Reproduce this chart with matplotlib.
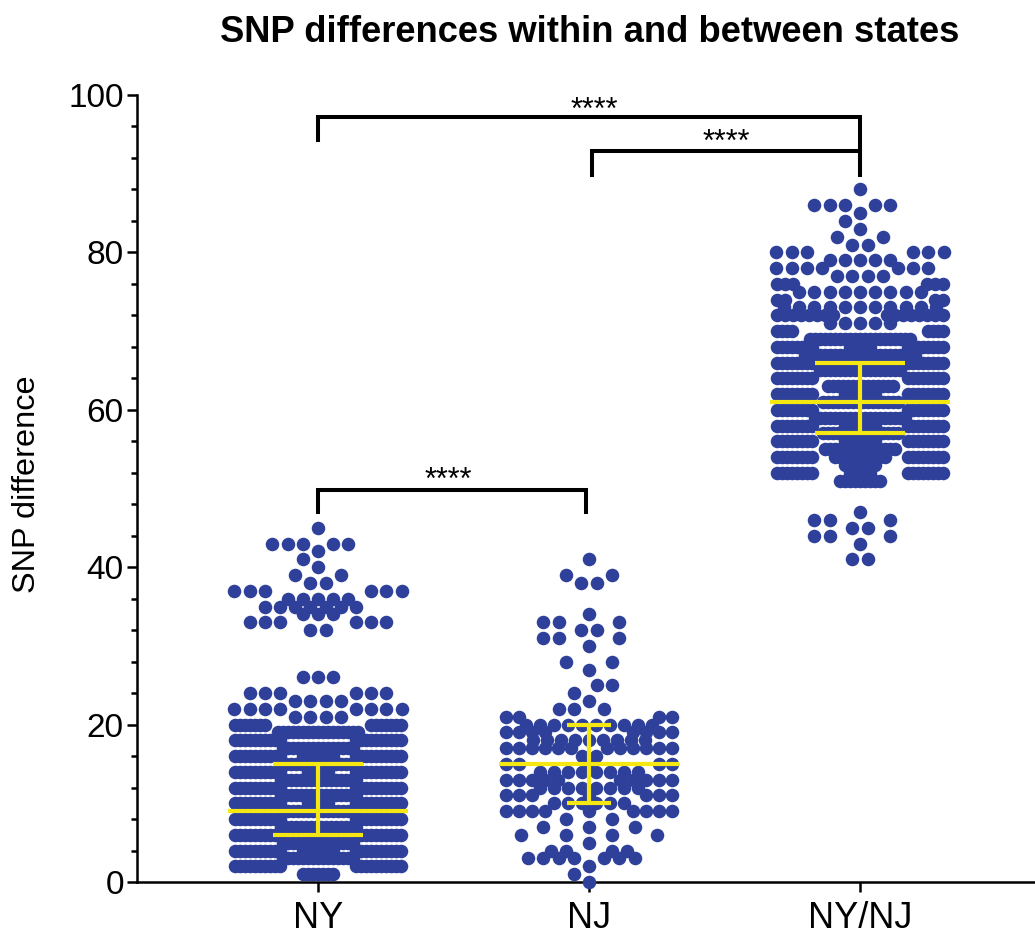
import numpy as np
import matplotlib
matplotlib.use('Agg')
import matplotlib.pyplot as plt

plt.rcParams['font.family'] = ['Liberation Sans', 'DejaVu Sans']

groups = ['NY', 'NJ', 'NY/NJ']

# SNP difference value and how many pairs have it
ny_values = [1, 2, 3, 4, 5, 6, 7, 8, 9, 10, 11, 12, 13, 14, 15, 16, 17, 18, 19, 20,
             21, 22, 23, 24, 26, 32, 33, 34, 35, 36, 37, 38, 39, 40, 41, 42, 43, 45]
ny_counts = [7, 20, 15, 27, 15, 25, 16, 20, 15, 25, 16, 20, 16, 25, 16, 27, 15, 20, 17, 14,
             4, 8, 4, 6, 3, 2, 6, 3, 7, 5, 6, 2, 2, 1, 1, 1, 5, 1]

nj_values = [0, 1, 2, 3, 4, 5, 6, 7, 8, 9, 10, 11, 12, 13, 14, 15, 16, 17, 18, 19, 20,
             21, 22, 23, 24, 25, 27, 28, 30, 31, 32, 33, 34, 38, 39, 41]
nj_counts = [1, 1, 1, 7, 4, 1, 4, 3, 2, 9, 6, 7, 8, 10, 8, 5, 2, 12, 9, 8, 10,
             4, 3, 1, 1, 2, 1, 2, 1, 3, 2, 3, 1, 2, 2, 1]

both_values = [41, 43, 44, 45, 46, 47, 51, 52, 53, 54, 55, 56, 57, 58, 59, 60, 61, 62, 63, 64, 65,
               66, 67, 68, 69, 70, 71, 72, 73, 74, 75, 76, 77, 78, 79, 80, 81, 82, 83, 84, 85, 86, 88]
both_counts = [2, 1, 3, 2, 3, 1, 9, 21, 7, 27, 15, 23, 16, 23, 19, 16, 16, 23, 14, 16, 17,
               16, 23, 21, 21, 8, 5, 16, 11, 4, 9, 6, 4, 7, 5, 6, 2, 2, 1, 1, 1, 5, 1]

# median, lower and upper quartile
medians = [9, 15, 61]
q1 = [6, 10, 57]
q3 = [15, 20, 66]
cap_half = [45, 22, 45]

# brackets: left group, right group, top, left end, right end, text position
bracket_x = [(0, 2), (1.01, 2), (0, 0.99)]
bracket_y = [(94.3, 97.2, 90.0), (89.8, 92.9, 89.8), (47.0, 49.8, 47.0)]
bracket_star = [(1.02, 96.1), (1.505, 92.0), (0.48, 49.1)]

PX = 271.0     # pixels between groups
STEP = 15.2    # dots side by side
WIDTH = 84     # half width of a column


def sparse_row(n, taken, limit):
    start = 7.6 if n % 2 == 0 else 0.0
    for phase in (start, 7.6 - start):
        slots = []
        k = 0
        while phase + k * STEP <= WIDTH:
            x = phase + k * STEP
            slots += [-x, x] if x > 0 else [0.0]
            k += 1
        row = []
        for x in slots:
            if all(abs(x - b) >= limit for b in taken):
                row.append(x)
            if len(row) == n:
                return row
    return None


def band_row(n, per_side, step):
    side = min(n // 2, per_side)
    row = []
    for i in range(side):
        row += [-(WIDTH - 1 - i * step), WIDTH - 1 - i * step]
    rest = n - 2 * side
    row += list((np.arange(rest) - (rest - 1) / 2) * step)
    return row


def layout(values, counts, dense, band_parity, per_side, band_step, mid_step):
    rows = {}
    n_at = dict(zip(values, counts))
    # the packed part of a column alternates wide rows and middle rows
    for v in values:
        if dense[0] <= v <= dense[1]:
            n = n_at[v]
            if v % 2 == band_parity:
                rows[v] = band_row(n, per_side, band_step)
            else:
                rows[v] = list((np.arange(n) - (n - 1) / 2) * mid_step)
    # long rows go first, then short rows from the smallest up, the rest move round them
    rest = [v for v in values if v not in rows]
    rest.sort(key=lambda v: (0, n_at[v]) if n_at[v] >= 9 else (1, n_at[v]))
    for v in rest:
        n = n_at[v]
        taken = rows.get(v - 1, []) + rows.get(v + 1, [])
        row = sparse_row(n, taken, 12)
        if row is None and n % 2 == 0:
            row = band_row(n, n, 8)
        if row is None:
            row = sparse_row(n, taken, 7)
        if row is None:
            row = list((np.arange(n) - (n - 1) / 2) * min(STEP, 2 * WIDTH / (n - 1)))
        rows[v] = row
    xs = []
    ys = []
    for v in values:
        xs += rows[v]
        ys += [v] * len(rows[v])
    return np.array(xs), np.array(ys)


fig = plt.figure(figsize=(10.35, 9.34), dpi=100)
ax = fig.add_axes([137 / 1035, 1 - 882 / 934, (1034 - 137) / 1035, (882 - 95) / 934])

columns = [layout(ny_values, ny_counts, (1, 20), 0, 10, 5, 5),
           layout(nj_values, nj_counts, (9, 21), 1, 6, 13, 14),
           layout(both_values, both_counts, (51, 70), 0, 8, 5, 5)]

for i, (xs, ys) in enumerate(columns):
    ax.scatter(i + xs / PX, ys, s=95, color='#2E409A', linewidths=0, zorder=3, clip_on=False)

# median line and quartile whiskers
for i in range(3):
    ax.plot([i - 90 / PX, i + 90 / PX], [medians[i], medians[i]], color='#F5E812', lw=3, zorder=4,
            solid_capstyle='butt')
    ax.plot([i, i], [q1[i], q3[i]], color='#F5E812', lw=3, zorder=4, solid_capstyle='butt')
    for q in (q1[i], q3[i]):
        ax.plot([i - cap_half[i] / PX, i + cap_half[i] / PX], [q, q], color='#F5E812', lw=3, zorder=4,
                solid_capstyle='butt')

for (x0, x1), (low, top, low2), (sx, sy) in zip(bracket_x, bracket_y, bracket_star):
    ax.plot([x0, x0, x1, x1], [low, top, top, low2], color='black', lw=2.9, zorder=2,
            solid_joinstyle='miter', clip_on=False)
    ax.text(sx, sy, '****', ha='center', va='bottom', fontsize=22)

ax.set_xlim(-181 / PX, 716 / PX)
ax.set_ylim(0, 100)
ax.set_xticks([0, 1, 2])
ax.set_xticklabels(groups, fontsize=26)
ax.set_yticks(range(0, 101, 20))
ax.set_yticks(range(0, 101, 4), minor=True)
ax.tick_params(axis='y', which='major', labelsize=24, length=7.5, width=1.8, pad=2)
ax.tick_params(axis='y', which='minor', length=4.5, width=1.8)
ax.tick_params(axis='x', which='major', length=7.5, width=1.8, pad=6)
ax.spines['top'].set_visible(False)
ax.spines['right'].set_visible(False)
ax.spines['left'].set_linewidth(1.8)
ax.spines['bottom'].set_linewidth(1.8)

fig.text(27 / 1035, 1 - 484 / 934, 'SNP difference', rotation=90, ha='center', va='center', fontsize=23.4)
fig.text(590 / 1035, 1 - 32 / 934, 'SNP differences within and between states', ha='center', va='center',
         fontsize=26.2, fontweight='bold')

fig.savefig('out.png', dpi=100)
